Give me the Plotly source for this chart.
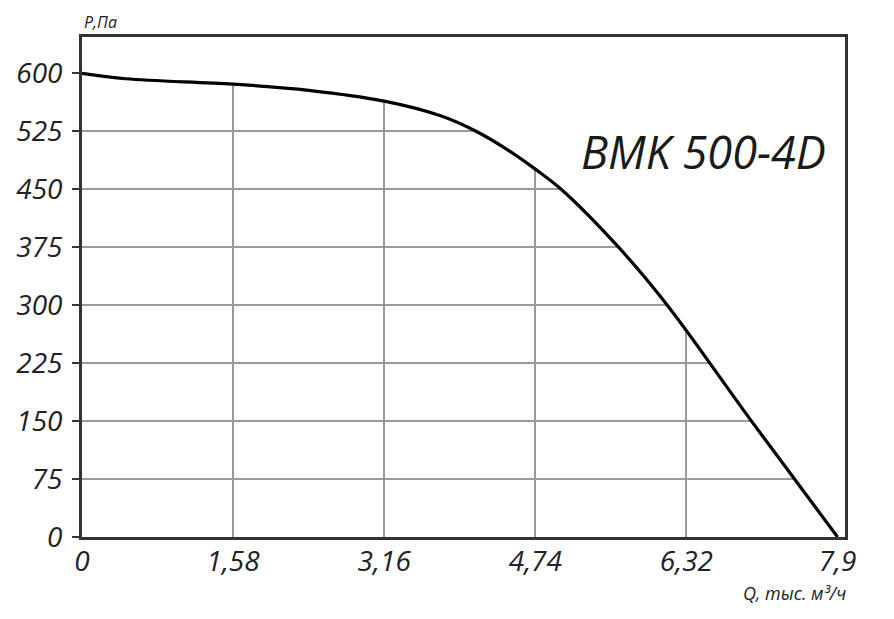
import plotly.graph_objects as go

# Data
q_values = [0, 0.46, 1.58, 2.37, 3.16, 3.75, 4.12, 4.45, 4.74, 5.01, 5.61, 6.12, 7.00, 7.9]
p_values = [600, 593, 586, 578, 564, 545, 525, 501, 476, 450, 375, 300, 150, 0]

x_tick_vals = [0, 1.58, 3.16, 4.74, 6.32, 7.9]
x_tick_text = ["0", "1,58", "3,16", "4,74", "6,32", "7,9"]
y_tick_vals = [0, 75, 150, 225, 300, 375, 450, 525, 600]
y_tick_text = ["0", "75", "150", "225", "300", "375", "450", "525", "600"]

title_text = "BMK 500-4D"
x_title = "Q, тыс. м³/ч"
y_title = "P,Па"

X_MAX = 7.978
Y_MAX = 647

FONT = "Open Sans"

fig = go.Figure()

# invisible upper boundary for white mask (hides grid above the curve)
fig.add_trace(go.Scatter(
    x=[0, X_MAX, X_MAX], y=[Y_MAX, Y_MAX, 0],
    mode="lines", line=dict(width=0, color="rgba(0,0,0,0)"),
    hoverinfo="skip", showlegend=False,
))
# the curve, filling the area above it with white
fig.add_trace(go.Scatter(
    x=q_values, y=p_values, mode="lines",
    line=dict(color="black", width=3.2, shape="spline", smoothing=1.0),
    fill="tonexty", fillcolor="white",
    showlegend=False,
))

fig.update_layout(
    width=886, height=611,
    margin=dict(l=74, r=49, t=29, b=82),
    paper_bgcolor="white", plot_bgcolor="white",
    showlegend=False,
)

fig.update_xaxes(
    range=[0, X_MAX], tickmode="array", tickvals=x_tick_vals, ticktext=x_tick_text,
    showgrid=True, gridcolor="#9a9a9a", gridwidth=1.8,
    showline=True, linecolor="#333333", linewidth=2.8, mirror=True,
    ticks="", zeroline=False, ticklabelstandoff=-3, automargin=False,
    tickfont=dict(family=FONT, size=28, color="#222222", style="italic"),
)
fig.update_yaxes(
    range=[0, Y_MAX], tickmode="array", tickvals=y_tick_vals, ticktext=y_tick_text,
    showgrid=True, gridcolor="#9a9a9a", gridwidth=1.8,
    showline=True, linecolor="#333333", linewidth=2.8, mirror=True,
    ticks="outside", ticklen=7, tickcolor="#333333", tickwidth=1.8,
    zeroline=False, ticklabelstandoff=4, automargin=False,
    tickfont=dict(family=FONT, size=28, color="#222222", style="italic"),
)

fig.add_annotation(
    text=title_text, xref="paper", yref="paper", x=0.978, y=0.772,
    xanchor="right", yanchor="middle", showarrow=False,
    font=dict(family=FONT, size=45, color="#1a1a1a", style="italic"),
)
fig.add_annotation(
    text=y_title, xref="paper", yref="paper", x=0.0, y=1.0,
    xanchor="left", yanchor="bottom", yshift=2, showarrow=False,
    font=dict(family=FONT, size=16, color="#222222", style="italic"),
)
fig.add_annotation(
    text=x_title, xref="paper", yref="paper", x=1.004, y=0.0,
    xanchor="right", yanchor="top", yshift=-42, showarrow=False,
    font=dict(family=FONT, size=18, color="#222222", style="italic"),
)

fig.write_html("out.html")
